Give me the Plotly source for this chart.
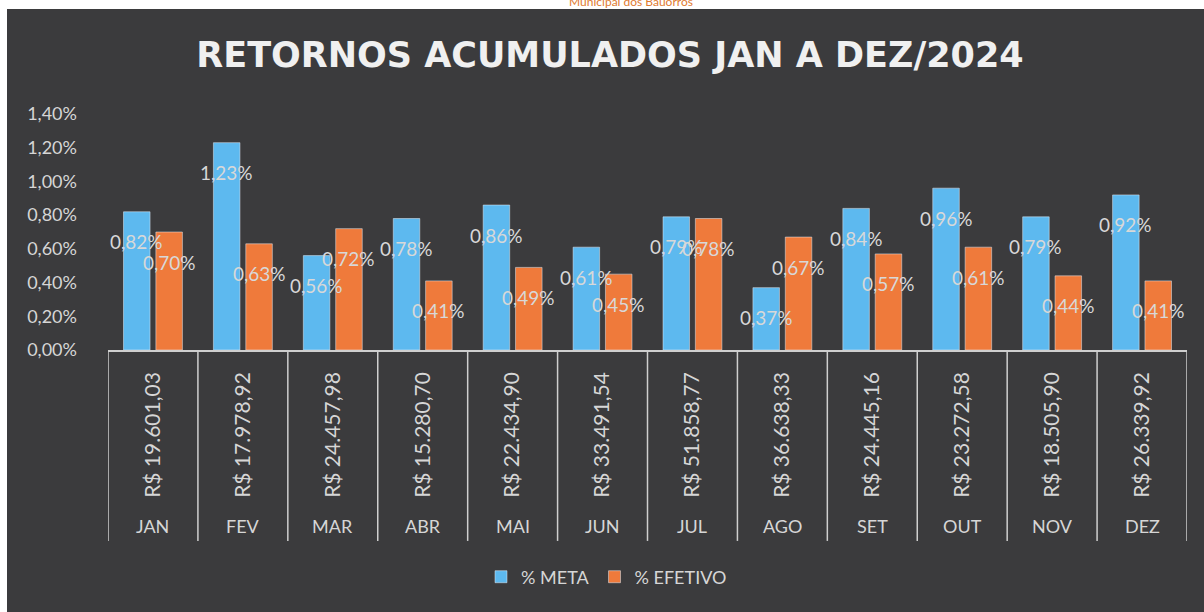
import plotly.graph_objects as go

# data
meses = ["JAN", "FEV", "MAR", "ABR", "MAI", "JUN", "JUL", "AGO", "SET", "OUT", "NOV", "DEZ"]
retornos = ["R$ 19.601,03", "R$ 17.978,92", "R$ 24.457,98", "R$ 15.280,70", "R$ 22.434,90",
            "R$ 33.491,54", "R$ 51.858,77", "R$ 36.638,33", "R$ 24.445,16", "R$ 23.272,58",
            "R$ 18.505,90", "R$ 26.339,92"]
meta = [0.82, 1.23, 0.56, 0.78, 0.86, 0.61, 0.79, 0.37, 0.84, 0.96, 0.79, 0.92]
efetivo = [0.70, 0.63, 0.72, 0.41, 0.49, 0.45, 0.78, 0.67, 0.57, 0.61, 0.44, 0.41]
y_ticks = [0, 0.2, 0.4, 0.6, 0.8, 1.0, 1.2, 1.4]

BG = "#3b3b3d"
TXT = "#d6d6d6"
LINE = "#cfcfcf"
BLUE = "#5db9ef"
ORANGE = "#ef7a3b"
FONT = "Lato"

fig = go.Figure()
fig.add_trace(go.Bar(x=retornos, y=[v / 100 for v in meta], name="% META",
                     marker_color=BLUE, hoverinfo="y"))
fig.add_trace(go.Bar(x=retornos, y=[v / 100 for v in efetivo], name="% EFETIVO",
                     marker_color=ORANGE, hoverinfo="y"))
# helper trace so the overlay axis (category index) exists
fig.add_trace(go.Scatter(x=[-0.5, len(meses) - 0.5], y=[0, 0], xaxis="x2", mode="none",
                         showlegend=False, hoverinfo="skip"))

# data labels (sit a bit below the bar tops, as in the original)
off = 0.18
for i in range(len(meses)):
    for v, dx in ((meta[i], -off), (efetivo[i], off)):
        fig.add_annotation(x=i + dx, y=v / 100, xref="x2", yref="y",
                           text=f"{v:.2f}%".replace(".", ","), showarrow=False,
                           yshift=-30, font=dict(family=FONT, size=19, color="#d8d8d8"))

# month row + box dividers under the axis (Excel multi-level category look)
for i, m in enumerate(meses):
    fig.add_annotation(x=i, y=-0.746, xref="x2", yref="paper", text=m, showarrow=False,
                       yanchor="middle", font=dict(family=FONT, size=18, color=TXT))
for i in range(len(meses) + 1):
    fig.add_shape(type="line", xref="x2", yref="paper", x0=i - 0.5, x1=i - 0.5,
                  y0=0, y1=-0.809, line=dict(color=LINE, width=1.5))

# white scan border strips + cut-off header text
fig.add_shape(type="rect", xref="paper", yref="paper", x0=-0.2, x1=1.1, y0=1.445, y1=1.6,
              fillcolor="white", line_width=0, layer="below")
fig.add_shape(type="rect", xref="paper", yref="paper", x0=-0.2, x1=-0.0936, y0=-1.2, y1=1.6,
              fillcolor="white", line_width=0, layer="below")
fig.add_annotation(x=0.485, y=1.475, xref="paper", yref="paper", text="Municipal dos Bauorros",
                   showarrow=False, font=dict(family=FONT, size=12, color="#e07a30"),
                   yanchor="middle", xanchor="center")

fig.update_layout(
    width=1204, height=612,
    paper_bgcolor=BG, plot_bgcolor=BG,
    separators=",.",
    margin=dict(l=108, r=17, t=114, b=262),
    font=dict(family=FONT, color=TXT, size=18),
    title=dict(text="RETORNOS ACUMULADOS JAN A DEZ/2024", x=0.5066, xanchor="center",
               y=0.91, yanchor="middle",
               font=dict(family="DejaVu Sans", size=35, weight="bold", color="#f0f0f0")),
    barmode="group", bargap=0.28, bargroupgap=0.18,
    showlegend=True,
    legend=dict(orientation="h", x=0.462, xanchor="center", y=-0.962, yanchor="middle",
                font=dict(size=18, color=TXT), bgcolor="rgba(0,0,0,0)", itemwidth=30),
    xaxis=dict(tickangle=-90, showline=True, linecolor=LINE, linewidth=1.5,
               ticks="", tickfont=dict(size=21, color=TXT), showgrid=False,
               ticklabelstandoff=12),
    xaxis2=dict(overlaying="x", range=[-0.5, len(meses) - 0.5], visible=False),
    yaxis=dict(range=[0, 0.014], tickvals=[t / 100 for t in y_ticks], tickformat=".2%",
               showgrid=False, zeroline=False, ticklabelstandoff=30,
               tickfont=dict(size=18, color=TXT)),
)

# drop the browser's default body margin so the figure sits at the page origin
fig.write_html("out.html", config={"displayModeBar": False},
               post_script="document.body.style.margin='0';")
